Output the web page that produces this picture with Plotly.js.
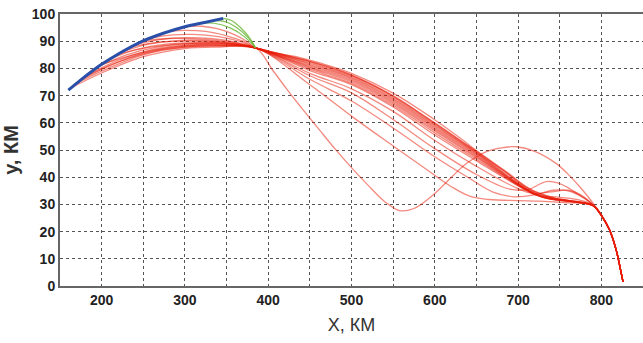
<!DOCTYPE html>
<html>
<head>
<meta charset="utf-8">
<script src="https://cdn.plot.ly/plotly-3.0.1.min.js"></script>
<style>html,body{margin:0;padding:0;background:#fff}#chart{width:643px;height:343px}</style>
</head>
<body>
<div id="chart"></div>
<script>
// Blue (initial) trajectory
const blueX = [160, 175, 192, 200, 220, 246, 275, 300, 325, 346];
const blueY = [72, 75.8, 79.8, 81.5, 85.3, 89.6, 93, 95.3, 97, 98.4];

// Green segments
const green1X = [315, 335, 355, 372, 385];
const green1Y = [96.6, 96.6, 94.8, 91.5, 87.5];
const green2X = [330, 348, 362, 376, 385];
const green2Y = [97.5, 97.2, 95, 91.2, 87.5];
const green3X = [346, 356, 366, 377, 385];
const green3Y = [98.4, 97.6, 95.2, 91.5, 87.5];

// Red trajectories: before the common point
const pre1X = [163, 200, 250, 300, 340];   const pre1Y = [72.8, 78.3, 84.3, 87.3, 87.8];
const pre2X = [168, 200, 250, 300, 340];   const pre2Y = [74.2, 79, 85, 87.8, 88.2];
const pre3X = [175, 210, 250, 300, 340];   const pre3Y = [75.8, 81, 85.6, 88.2, 88.6];
const pre4X = [185, 220, 260, 300, 340];   const pre4Y = [78, 83, 86.8, 88.6, 88.9];
const pre5X = [195, 230, 270, 310, 345];   const pre5Y = [80.5, 85, 88, 89.2, 89.2];
const pre6X = [210, 240, 280, 320, 350];   const pre6Y = [83.4, 86.8, 89, 89.6, 89.2];
const pre7X = [225, 255, 290, 325, 355];   const pre7Y = [86.2, 88.8, 90.2, 90.2, 89.3];
const pre8X = [240, 270, 300, 330, 360];   const pre8Y = [88.8, 90.6, 91.3, 91, 89.7];
const pre9X = [260, 285, 310, 340, 365];   const pre9Y = [91.2, 92.3, 92.5, 91.7, 90];
const pre10X = [280, 300, 325, 350, 370];  const pre10Y = [93.6, 94, 93.6, 92, 90];
const pre11X = [300, 320, 340, 360, 375];  const pre11Y = [95.3, 95.5, 94.5, 92.3, 89.8];
const pre12X = [200, 240, 280, 320, 355];  const pre12Y = [81.5, 85.2, 87.6, 88.6, 88.5];
const pre13X = [220, 255, 290, 330, 360];  const pre13Y = [85.3, 87.6, 88.9, 89.2, 88.8];
const pre14X = [180, 220, 265, 310, 350];  const pre14Y = [77, 82.4, 86.4, 88, 88.3];
const pre15X = [235, 265, 300, 335, 362];  const pre15Y = [88, 89.5, 90, 89.8, 89];
const pre16X = [250, 280, 310, 340, 365];  const pre16Y = [90.2, 91, 90.9, 90.2, 89.2];

// Common crossing point
const crossX = [385];
const crossY = [87.5];

// Red trajectories: after the common point
const post1X = [405, 422, 440, 462, 480, 500, 520, 540, 558, 575, 598, 620, 638, 662, 680, 698, 720, 746, 762, 774, 790];
const post1Y = [79.5, 72.5, 65.5, 57.2, 50.5, 43.5, 37, 31, 27.7, 28.5, 33.5, 40, 45, 49.4, 50.8, 51.2, 49.5, 45, 40.5, 36.5, 30.5];
const post2X = [450, 502, 550, 594, 620, 642, 665, 700, 726, 760, 790];
const post2Y = [74, 62, 51.5, 42, 36.5, 33, 31.8, 31.4, 31.2, 30.6, 29.8];
const post3X = [450, 500, 550, 600, 642, 670, 695, 720, 742, 760, 780, 790];
const post3Y = [76, 68, 58.1, 47.5, 39.5, 34.5, 32.8, 33.5, 35.2, 35, 32.2, 29.8];
const post4X = [450, 500, 550, 600, 650, 690, 712, 734, 752, 772, 790];
const post4Y = [77.3, 71, 61.2, 50.5, 41, 35.6, 35.5, 38.4, 37.4, 33.8, 29.8];
const post5X = [450, 500, 550, 600, 650, 695, 718, 740, 760, 778, 790];
const post5Y = [78.2, 72.5, 64.2, 53.5, 44, 36.5, 34, 34.6, 35.2, 33, 29.8];
const post6X = [450, 500, 550, 600, 650, 700, 722, 750, 775, 790];
const post6Y = [79.2, 74, 65.8, 55.5, 46, 36.8, 33.5, 32.6, 31.5, 29.8];
const post7X = [450, 500, 550, 600, 650, 705, 726, 760, 790];
const post7Y = [80.2, 75, 67, 57, 47.2, 36.2, 33, 31.5, 29.6];
const post8X = [450, 500, 550, 600, 650, 708, 730, 765, 790];
const post8Y = [81, 76, 68, 58, 48, 35.7, 32.6, 31, 29.6];
const post9X = [450, 500, 550, 600, 650, 712, 735, 770, 790];
const post9Y = [81.8, 76.8, 69, 59, 48.8, 35.2, 32.2, 30.8, 29.5];
const post10X = [450, 500, 550, 600, 650, 686, 716, 745, 790];
const post10Y = [82.6, 77.5, 70, 59.8, 49.3, 41.6, 35, 32, 29.5];
const post11X = [438, 462, 500, 550, 598, 630, 650, 686, 718, 750, 790];
const post11Y = [84, 82, 78.2, 70.9, 61.5, 54.5, 49.8, 42, 35, 31.8, 29.5];
const post12X = [450, 500, 550, 600, 650, 703, 724, 758, 790];
const post12Y = [79.7, 74.5, 66.4, 56.3, 46.6, 36.5, 33.2, 31.6, 29.7];
const post13X = [450, 500, 550, 600, 650, 707, 728, 762, 790];
const post13Y = [80.6, 75.5, 67.5, 57.5, 47.6, 36, 32.8, 31.3, 29.6];
const post14X = [450, 500, 550, 600, 650, 710, 732, 767, 790];
const post14Y = [81.4, 76.4, 68.5, 58.5, 48.4, 35.5, 32.4, 30.9, 29.5];
const post15X = [450, 500, 550, 600, 650, 714, 738, 772, 790];
const post15Y = [82.2, 77.2, 69.5, 59.4, 49, 35, 32.1, 30.7, 29.5];
const post16X = [445, 490, 540, 590, 640, 680, 712, 745, 790];
const post16Y = [83, 78.8, 71.5, 62, 51.6, 43, 36, 32.2, 29.5];

// Common final descent
const tailX = [800, 810, 818, 823, 826];
const tailY = [26, 20.5, 13, 6, 1.5];

const preX = [pre1X, pre2X, pre3X, pre4X, pre5X, pre6X, pre7X, pre8X, pre9X, pre10X, pre11X, pre12X, pre13X, pre14X, pre15X, pre16X];
const preY = [pre1Y, pre2Y, pre3Y, pre4Y, pre5Y, pre6Y, pre7Y, pre8Y, pre9Y, pre10Y, pre11Y, pre12Y, pre13Y, pre14Y, pre15Y, pre16Y];
const postX = [post1X, post2X, post3X, post4X, post5X, post6X, post7X, post8X, post9X, post10X, post11X, post12X, post13X, post14X, post15X, post16X];
const postY = [post1Y, post2Y, post3Y, post4Y, post5Y, post6Y, post7Y, post8Y, post9Y, post10Y, post11Y, post12Y, post13Y, post14Y, post15Y, post16Y];

const traces = [];
for (let i = 0; i < preX.length; i++) {
  traces.push({
    x: preX[i].concat(crossX, postX[i], tailX),
    y: preY[i].concat(crossY, postY[i], tailY),
    mode: 'lines', type: 'scatter', hoverinfo: 'skip',
    line: {color: 'rgba(232,28,10,0.52)', width: 1.3, shape: 'spline', smoothing: 1}
  });
}
[[green1X, green1Y], [green2X, green2Y], [green3X, green3Y]].forEach(function (g) {
  traces.push({x: g[0], y: g[1], mode: 'lines', type: 'scatter', hoverinfo: 'skip',
    line: {color: 'rgba(110,185,60,0.85)', width: 1.2, shape: 'spline', smoothing: 1}});
});
traces.push({x: blueX, y: blueY, mode: 'lines', type: 'scatter', hoverinfo: 'skip',
  line: {color: '#2a4fa8', width: 3, shape: 'spline', smoothing: 1}});

const gridStyle = {showgrid: true, gridcolor: '#555', griddash: 'dot', gridwidth: 1};
const layout = {
  width: 643, height: 343,
  margin: {l: 60, r: 0, t: 14, b: 57},
  paper_bgcolor: '#fff', plot_bgcolor: '#fff',
  showlegend: false,
  font: {family: 'Liberation Sans, Arial, sans-serif', color: '#333'},
  xaxis: Object.assign({
    range: [150, 850], tick0: 0, dtick: 100, zeroline: false,
    showline: true, linecolor: '#666', linewidth: 2, mirror: true,
    ticks: '', tickfont: {size: 14, color: '#222', weight: 'bold'},
    minor: {dtick: 50, showgrid: true, gridcolor: '#555', griddash: 'dot', gridwidth: 1},
    title: {text: 'X, КМ', font: {size: 18, color: '#333'}, standoff: 12}
  }, gridStyle),
  yaxis: Object.assign({
    range: [0, 100], tick0: 0, dtick: 10, zeroline: false,
    showline: true, linecolor: '#666', linewidth: 2, mirror: true,
    ticks: '', tickfont: {size: 14, color: '#222', weight: 'bold'},
    title: {text: 'y, КМ', font: {size: 20, color: '#333', weight: 'bold'}, standoff: 8}
  }, gridStyle)
};
Plotly.newPlot('chart', traces, layout, {displayModeBar: false, staticPlot: true});
</script>
</body>
</html>
